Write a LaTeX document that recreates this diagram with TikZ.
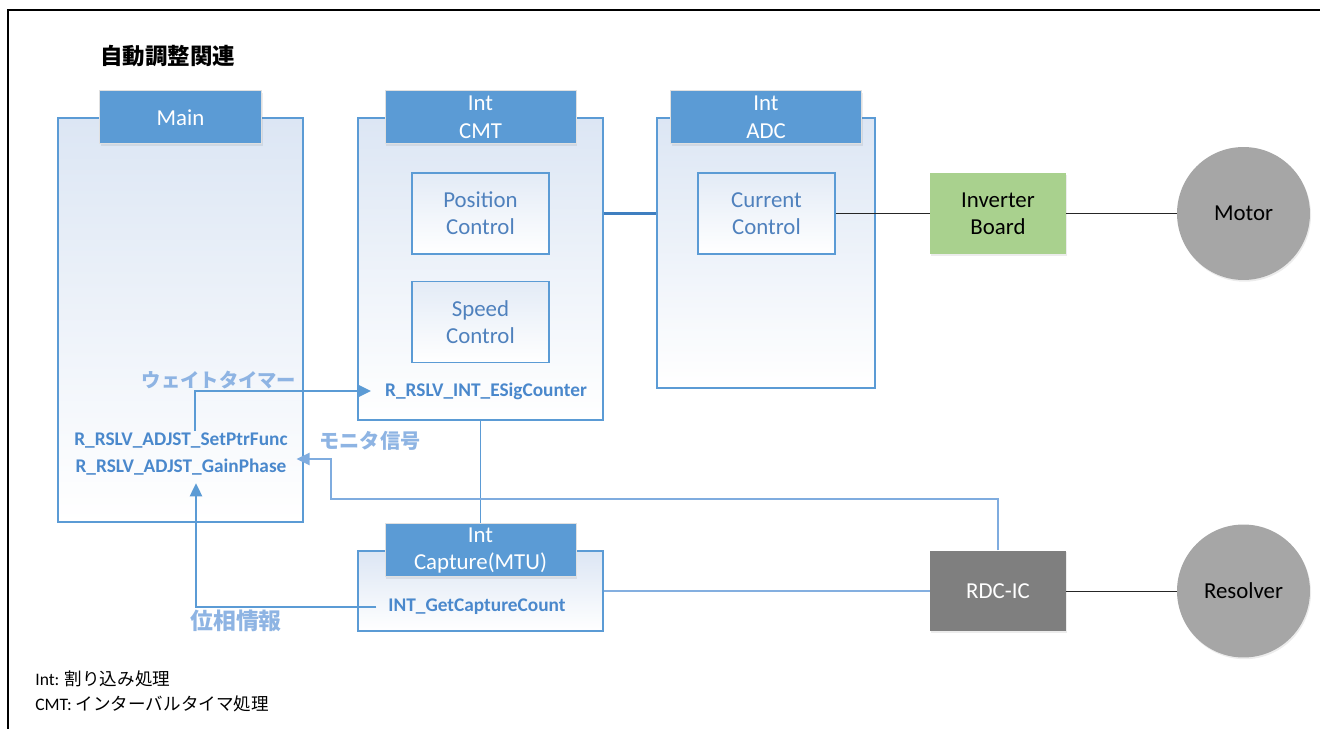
\documentclass[tikz,border=0pt]{standalone}
\usepackage{fontspec}
\setmainfont{Carlito}
\newfontfamily\jp{Noto Sans CJK JP}
\usetikzlibrary{positioning, arrows.meta, shadows}
\definecolor{rslvBlue}{HTML}{5B9BD5}
\definecolor{rslvDeep}{HTML}{3F7FC0}
\definecolor{rslvPale}{HTML}{DCE6F4}
\definecolor{rslvText}{HTML}{4F81BD}
\definecolor{rslvFunc}{HTML}{4A88CC}
\definecolor{rslvLabel}{HTML}{8EB4E3}
\definecolor{rslvGreen}{HTML}{A9D18E}
\definecolor{rslvGrey}{HTML}{A6A6A6}
\definecolor{rslvDark}{HTML}{7F7F7F}

\begin{document}
\begin{tikzpicture}[x=0.02cm, y=-0.02cm,
    task/.style={draw=rslvBlue, line width=0.8pt, top color=rslvPale, bottom color=white, inner sep=0pt},
    hdr/.style={fill=rslvBlue, draw=black!12, text=white, font=\fontsize{13}{15.5}\selectfont, align=center,
      minimum width=3.82cm, minimum height=1.06cm, inner sep=0pt,
      drop shadow={opacity=0.15, shadow xshift=0.6pt, shadow yshift=-1pt}},
    ctrl/.style={draw=rslvBlue, line width=0.8pt, top color=rslvPale!80, bottom color=white, text=rslvText,
      font=\fontsize{13}{15.5}\selectfont, align=center, minimum width=2.74cm, minimum height=1.62cm, inner sep=0pt},
    func/.style={text=rslvFunc, font=\bfseries\fontsize{11}{13}\selectfont, inner sep=1pt},
    note/.style={text=rslvLabel, font=\jp\bfseries\fontsize{11.5}{13}\selectfont, inner sep=0pt},
    hw/.style={minimum width=2.72cm, minimum height=1.62cm, inner sep=0pt, align=center,
      font=\fontsize{13}{15.5}\selectfont, drop shadow={opacity=0.15, shadow xshift=0.6pt, shadow yshift=-1pt}},
    dev/.style={circle, fill=rslvGrey, minimum size=2.66cm, inner sep=0pt, font=\fontsize{13}{15.5}\selectfont,
      drop shadow={opacity=0.15, shadow xshift=0.6pt, shadow yshift=-1pt}},
    link/.style={draw=rslvBlue, line width=0.8pt},
    wire/.style={draw=black!85, line width=0.5pt},
    sig/.style={draw=rslvBlue, line width=1.1pt, -{Triangle[length=7.5pt, width=7pt]}}]
  \useasboundingbox (0,0) rectangle (1320,729);
  \draw[line width=1.6pt] (8,729) -- (8,10) -- (1320,10);

  \node[anchor=west, inner sep=0pt, font=\jp\bfseries\fontsize{12.8}{15}\selectfont] (title) at (100,56) {自動調整関連};

  % software tasks
  \node[task, minimum width=4.9cm, minimum height=8.08cm] (main) at (180.5,320) {};
  \node[task, minimum width=4.9cm, minimum height=6.04cm] (cmt) at (480.5,269) {};
  \node[task, minimum width=4.36cm, minimum height=5.4cm] (adc) at (766,253) {};
  \node[task, minimum width=4.9cm, minimum height=1.6cm] (cap) at (480.5,591) {};
  \node[hdr, minimum width=3.24cm] (mainhdr) at (main.north) {Main};
  \node[hdr] (cmthdr) at (cmt.north) {Int\\CMT};
  \node[hdr] (adchdr) at (adc.north) {Int\\ADC};
  \node[hdr] (caphdr) at (cap.north) {Int\\Capture(MTU)};

  \node[ctrl] (pos) at (480.5,213.5) {Position\\Control};
  \node[ctrl, below=0.52cm of pos] (spd) {Speed\\Control};
  \node[ctrl] (cur) at (766.5,213.5) {Current\\Control};

  \node[func] (esig) at (486,391) {R\_RSLV\_INT\_ESigCounter};
  \node[func] (setfn) at (181,441) {R\_RSLV\_ADJST\_SetPtrFunc};
  \node[func] (gainfn) at (181,467) {R\_RSLV\_ADJST\_GainPhase};
  \node[func] (capfn) at (477,607) {INT\_GetCaptureCount};

  % hardware
  \node[hw, fill=rslvGreen] (inv) at (998,213.5) {Inverter\\Board};
  \node[hw, fill=rslvDark, text=white] (rdc) at (998,591) {RDC-IC};
  \node[dev] (motor) at (1243.5,213.5) {Motor};
  \node[dev] (resolver) at (1243.5,591) {Resolver};

  \draw[link, line width=1.3pt, draw=rslvDeep] (cmt.east |- pos.east) -- (adc.west |- pos.east);
  \draw[link] (cmt.south) -- (caphdr.north);
  \draw[link, draw=rslvLabel!80!rslvBlue] (cap.east) -- (rdc.west);
  \draw[wire] (cur) -- (inv);
  \draw[wire] (inv) -- (motor);
  \draw[wire] (rdc) -- (resolver);

  % signals
  \coordinate (monbend) at (331,499);
  \draw[sig] ([xshift=0.28cm]setfn.north) |- ([xshift=-0.24cm]esig.west);
  \draw[sig, draw=rslvLabel!70!rslvBlue] (rdc.north) |- (monbend) |- ([xshift=0.16cm, yshift=0.16cm]gainfn.east);
  \draw[sig] ([xshift=-0.2cm]capfn.west) -| ([xshift=0.3cm, yshift=-0.12cm]gainfn.south);
  \node[note, font=\jp\bfseries\fontsize{11}{13}\selectfont] (waitlbl) at (219,380) {ウェイトタイマー};
  \node[note] (monlbl) at (370,441) {モニタ信号};
  \node[note, font=\jp\bfseries\fontsize{13}{15}\selectfont] (phaselbl) at (236,621) {位相情報};

  % legend
  \node[anchor=west, font=\fontsize{10}{12}\selectfont, inner sep=0pt] (leg1) at (35,679) {Int: {\jp 割り込み処理}};
  \node[anchor=west, font=\fontsize{10}{12}\selectfont, inner sep=0pt] (leg2) at (35,704) {CMT: {\jp インターバルタイマ処理}};
\end{tikzpicture}
\end{document}
